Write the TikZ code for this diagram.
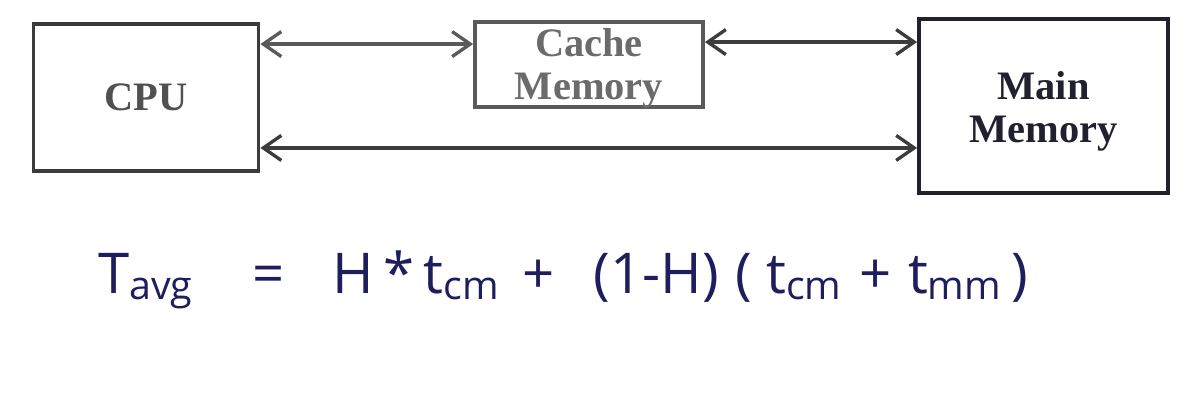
\documentclass[tikz,border=0pt]{standalone}
\usepackage{fontspec}
\setmainfont{Liberation Serif}
\setsansfont{Open Sans}
\usetikzlibrary{arrows.meta,calc}

\definecolor{boxgray}{HTML}{3C3C3C}
\definecolor{cachegray}{HTML}{5A5A5A}
\definecolor{mainnavy}{HTML}{20202E}
\definecolor{inknavy}{HTML}{1E1E5E}

\tikzset{
  unitbox/.style={draw, line width=2.2pt, inner sep=0pt, align=center,
    font=\fontsize{23}{24.5}\selectfont\bfseries},
  bus/.style={line width=1.9pt, {Straight Barb[length=0.36cm,width=0.5cm]}-{Straight Barb[length=0.36cm,width=0.5cm]}}
}

\begin{document}
\begin{tikzpicture}[x=0.02cm,y=-0.02cm]
        \useasboundingbox (0,0) rectangle (1196,402);

        \node[unitbox, color=boxgray, text=boxgray!90, minimum width=4.5cm, minimum height=2.94cm]
            (cpu) at (146,97.5) {CPU};
        \node[unitbox, color=cachegray, text=cachegray!90, minimum width=4.56cm, minimum height=1.7cm]
            (cache) at (589,64.5) {};
        \node[align=center, font=\fontsize{23}{24.5}\selectfont\bfseries, text=cachegray!90, inner sep=0pt]
            (cachetext) at ([yshift=-0.08cm]cache.center) {Cache\\Memory};
        \node[unitbox, color=mainnavy, text=mainnavy, minimum width=4.98cm, minimum height=3.48cm]
            (main) at (1043.5,106) {};
        \node[align=center, font=\fontsize{23}{24.5}\selectfont\bfseries, text=mainnavy, inner sep=0pt]
            (maintext) at ([yshift=-0.1cm]main.center) {Main\\Memory};

        \draw[bus, cachegray] ([yshift=-0.44cm]cpu.north east) -- ([yshift=-0.44cm]cpu.north east -| cache.west);
        \draw[bus, boxgray] ([yshift=-0.44cm]cache.north east) -- ([yshift=-0.44cm]cache.north east -| main.west);
        \draw[bus, boxgray] ([yshift=0.5cm]cpu.south east) -- ([yshift=0.5cm]cpu.south east -| main.west);

        % average access time, handwritten below
        \node[anchor=base west, inknavy, font=\sffamily\fontsize{32}{34}\selectfont] (tavg) at (92,293)
            {T\textsubscript{avg}\hspace{1.05em}=\hspace{0.85em}H\,*\,t\textsubscript{cm}\hspace{0.4em}+\hspace{0.7em}(1-H)\hspace{0.3em}(\hspace{0.25em}t\textsubscript{cm}\hspace{0.3em}+\hspace{0.3em}t\textsubscript{mm}\,)};
\end{tikzpicture}
\end{document}
